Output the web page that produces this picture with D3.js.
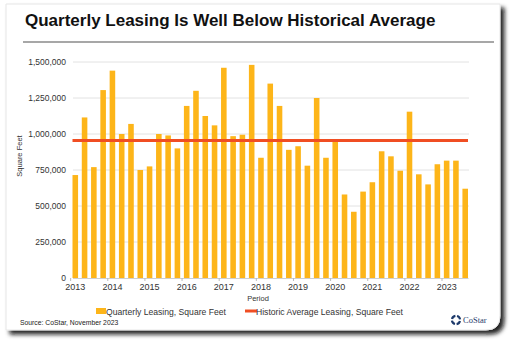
<!DOCTYPE html>
<html>
<head>
<meta charset="utf-8">
<script src="https://cdn.jsdelivr.net/npm/d3@7"></script>
<style>
  body { margin: 0; background: #fff; }
  text { font-family: "Liberation Sans", Arial, sans-serif; }
</style>
</head>
<body>
<div id="chart"></div>
<script>
// Datos: arrendamiento trimestral 2013 T1 - 2023 T3
const years = ["2013", "2014", "2015", "2016", "2017", "2018", "2019", "2020", "2021", "2022", "2023"];
const leasing = [
  715000, 1115000, 770000, 1305000,
  1440000, 1000000, 1070000, 750000,
  775000, 1000000, 990000, 900000,
  1195000, 1300000, 1125000, 1060000,
  1460000, 985000, 995000, 1480000,
  835000, 1350000, 1195000, 890000,
  915000, 780000, 1250000, 835000,
  950000, 580000, 460000, 600000,
  665000, 880000, 845000, 745000,
  1155000, 720000, 650000, 790000,
  815000, 815000, 620000
];
const historicAverage = 955000;
const yTicks = [0, 250000, 500000, 750000, 1000000, 1250000, 1500000];

const W = 512, H = 342;
const svg = d3.select("#chart").append("svg")
  .attr("width", W).attr("height", H);

// Sombra de la tarjeta
const defs = svg.append("defs");
const f = defs.append("filter").attr("id", "shadow")
  .attr("x", "-5%").attr("y", "-5%").attr("width", "115%").attr("height", "115%");
f.append("feDropShadow").attr("dx", 4).attr("dy", 4).attr("stdDeviation", 2)
  .attr("flood-color", "#111").attr("flood-opacity", 0.9);

svg.append("path")
  .attr("d", "M6,4 H500 V316 Q500,330 486,330 H6 Z")
  .attr("fill", "#fff")
  .attr("stroke", "#e6e6e6")
  .attr("stroke-width", 1)
  .attr("filter", "url(#shadow)");

// Título
svg.append("text")
  .attr("x", 25).attr("y", 26)
  .style("font-size", "17px").style("font-weight", "bold")
  .attr("fill", "#111")
  .text("Quarterly Leasing Is Well Below Historical Average");

svg.append("line")
  .attr("x1", 23).attr("x2", 494).attr("y1", 42).attr("y2", 42)
  .attr("stroke", "#8a8a8a").attr("stroke-width", 1.5);

// Escalas
const x = d3.scaleBand()
  .domain(leasing.map((d, i) => i))
  .range([72.5, 468])
  .paddingInner(0.4)
  .paddingOuter(0);

const y = d3.scaleLinear()
  .domain([0, 1500000])
  .range([278, 62]);

// Rejilla y eje Y
const yAxis = svg.append("g")
  .attr("transform", "translate(73,0)")
  .call(d3.axisLeft(y).tickValues(yTicks).tickSize(0).tickPadding(7).tickFormat(d3.format(",")));
yAxis.select(".domain").remove();
yAxis.selectAll("text").style("font-size", "8.5px").attr("fill", "#333")
  .style("font-family", "'Liberation Sans', Arial, sans-serif");

svg.append("g").selectAll("line")
  .data(yTicks.filter(d => d > 0))
  .join("line")
  .attr("x1", 73).attr("x2", 469)
  .attr("y1", d => y(d)).attr("y2", d => y(d))
  .attr("stroke", "#e2e2e2").attr("stroke-width", 1);

// Eje X: etiquetas de año en el T1
const xAxis = svg.append("g")
  .attr("transform", "translate(0,278)")
  .call(d3.axisBottom(x)
    .tickValues(leasing.map((d, i) => i).filter(i => i % 4 === 0))
    .tickSize(0).tickPadding(6)
    .tickFormat(i => years[i / 4]));
xAxis.select(".domain").attr("stroke", "#cfcfcf");
xAxis.selectAll("text").style("font-size", "9px").attr("fill", "#333")
  .style("font-family", "'Liberation Sans', Arial, sans-serif");

// marcas de división entre años
svg.append("g").selectAll("line")
  .data(leasing.map((d, i) => i).filter(i => i % 4 === 0))
  .join("line")
  .attr("x1", i => x(i) - x.step() * x.paddingInner() / 2)
  .attr("x2", i => x(i) - x.step() * x.paddingInner() / 2)
  .attr("y1", 278).attr("y2", 281)
  .attr("stroke", "#bbb");

// Barras
svg.append("g").selectAll("rect")
  .data(leasing)
  .join("rect")
  .attr("x", (d, i) => x(i))
  .attr("y", d => y(d))
  .attr("width", x.bandwidth())
  .attr("height", d => y(0) - y(d))
  .attr("fill", "#fdb519");

// Línea de promedio histórico
svg.append("line")
  .attr("x1", x(0)).attr("x2", x(leasing.length - 1) + x.bandwidth())
  .attr("y1", y(historicAverage)).attr("y2", y(historicAverage))
  .attr("stroke", "#f04e23").attr("stroke-width", 3);

// Títulos de ejes
svg.append("text")
  .attr("x", 258).attr("y", 301)
  .attr("text-anchor", "middle")
  .style("font-size", "7.5px").attr("fill", "#333")
  .text("Period");

svg.append("text")
  .attr("transform", "translate(22,156) rotate(-90)")
  .attr("text-anchor", "middle")
  .style("font-size", "7.5px").attr("fill", "#333")
  .text("Square Feet");

// Leyenda
svg.append("rect")
  .attr("x", 96).attr("y", 308).attr("width", 10).attr("height", 6)
  .attr("fill", "#fdb519");
svg.append("text")
  .attr("x", 106).attr("y", 315)
  .style("font-size", "8.6px").attr("fill", "#333")
  .text("Quarterly Leasing, Square Feet");

svg.append("line")
  .attr("x1", 245).attr("x2", 257).attr("y1", 311).attr("y2", 311)
  .attr("stroke", "#f04e23").attr("stroke-width", 3);
svg.append("text")
  .attr("x", 256).attr("y", 315)
  .style("font-size", "8.6px").attr("fill", "#333")
  .text("Historic Average Leasing, Square Feet");

// Fuente
svg.append("text")
  .attr("x", 20).attr("y", 325)
  .style("font-size", "6.8px").attr("fill", "#222")
  .text("Source: CoStar, November 2023");

// Logo CoStar
const logo = svg.append("g").attr("transform", "translate(456,320)");
const arc = d3.arc().innerRadius(3).outerRadius(5.2);
[0, 1, 2, 3].forEach(k => {
  logo.append("path")
    .attr("d", arc({startAngle: k * Math.PI / 2 + 0.25, endAngle: (k + 1) * Math.PI / 2 - 0.15}))
    .attr("fill", "#1d3a6b");
});
logo.append("text")
  .attr("x", 7).attr("y", 3)
  .style("font-size", "8.5px")
  .style("font-family", "'Liberation Serif', 'DejaVu Serif', serif")
  .attr("fill", "#1d3a6b")
  .text("CoStar");
</script>
</body>
</html>
